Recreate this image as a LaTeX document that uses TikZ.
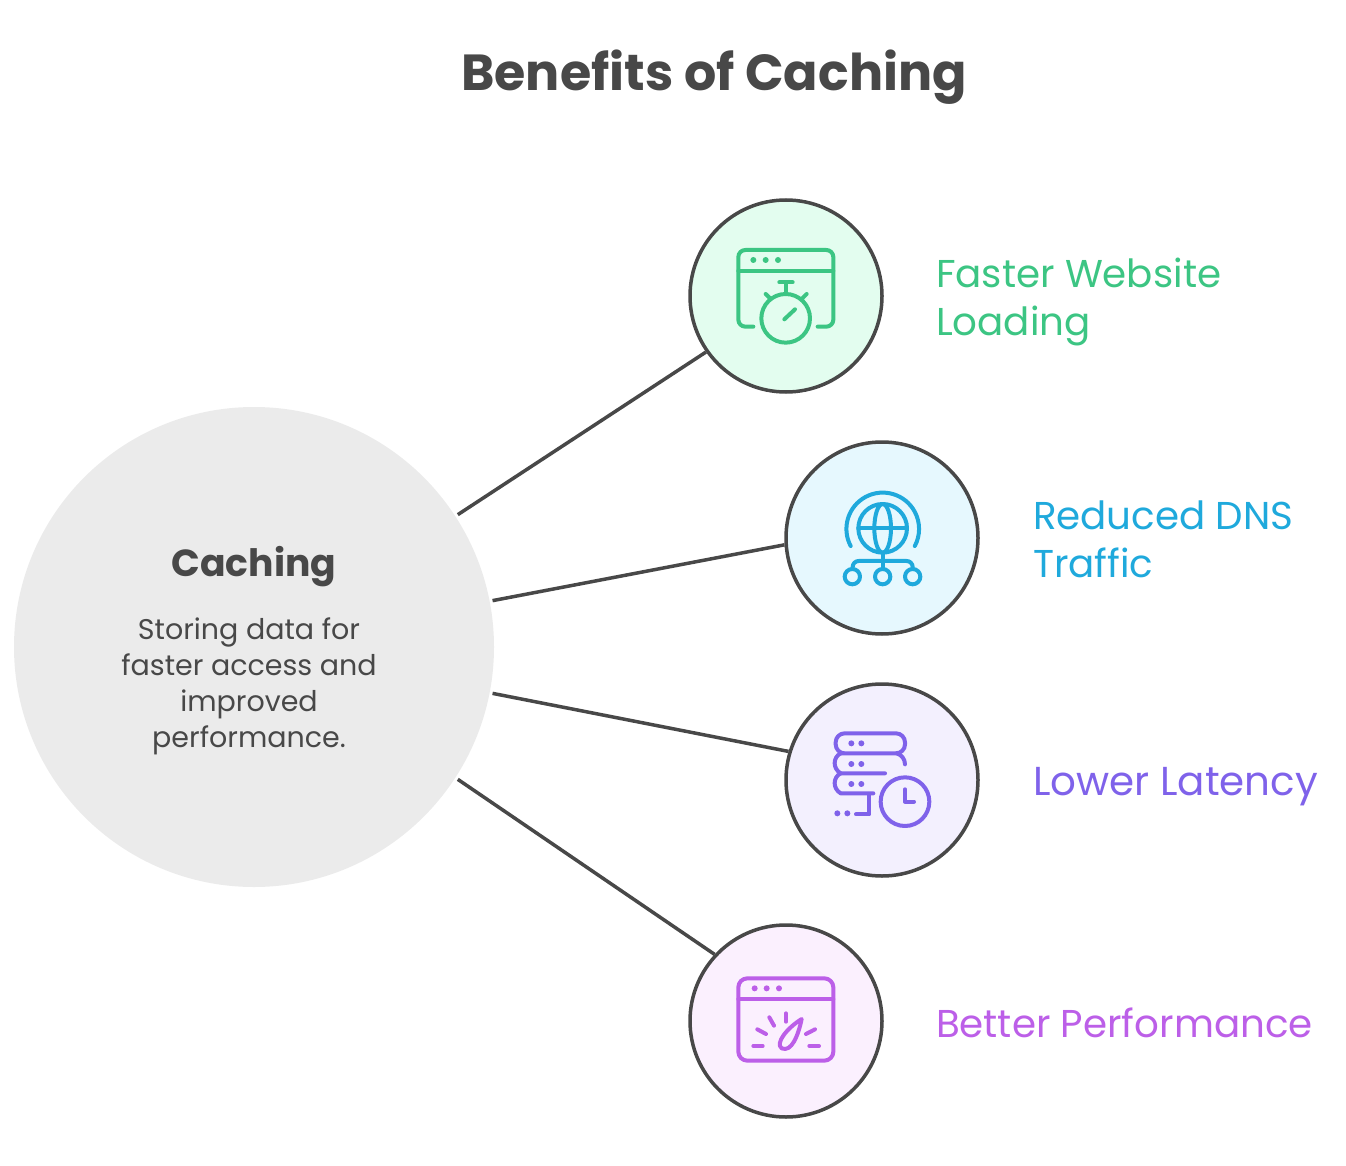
\documentclass[tikz,border=0pt]{standalone}
\usepackage{fontspec}
\setmainfont{Poppins}
\usetikzlibrary{positioning}
\definecolor{ink}{HTML}{484848}
\definecolor{disc}{HTML}{EBEBEB}
\definecolor{greenline}{HTML}{3CC583}
\definecolor{greenfill}{HTML}{E3FDEF}
\definecolor{blueline}{HTML}{1FA9DC}
\definecolor{bluefill}{HTML}{E6F8FE}
\definecolor{violetline}{HTML}{7F62EA}
\definecolor{violetfill}{HTML}{F3F0FE}
\definecolor{pinkline}{HTML}{BC5FE8}
\definecolor{pinkfill}{HTML}{FBF0FE}
\tikzset{
  benefit/.style={draw=ink,line width=3.5pt,circle,minimum size=192pt,inner sep=0pt},
  link/.style={draw=ink,line width=3.5pt},
  label/.style={inner sep=0mm,outer sep=0mm,anchor=west,align=left,font=\fontsize{38.8}{48}\selectfont},
  icon/.style={line width=4pt,line cap=round,line join=round},
  zoomed/.style={x=0.3333pt,y=-0.3333pt}
}
\begin{document}
\begin{tikzpicture}[x=1pt,y=-1pt]
  \useasboundingbox (0,0) rectangle (1346,1166);
  \node (title) [text=ink,font=\fontsize{50.7}{56}\selectfont\bfseries] at (714,77) {Benefits of Caching};
  \node (caching) [circle,fill=disc,minimum size=480pt,inner sep=0pt,outer sep=3pt] at (254,647) {};
  \node (head) [text=ink,font=\fontsize{37.7}{44}\selectfont\bfseries] at (254,567) {Caching};
  \node (body) [text=ink,align=center,font=\fontsize{28.5}{36}\selectfont] at (249,686) {Storing data for\\faster access and\\improved\\performance.};
  \node (fast) [benefit,fill=greenfill] at (786,296) {};
  \node (dns) [benefit,fill=bluefill] at (882,538) {};
  \node (latency) [benefit,fill=violetfill] at (882,780) {};
  \node (perf) [benefit,fill=pinkfill] at (786,1021) {};
  \draw [link] (caching.33.3) to (fast.215);
  \draw [link] (caching.11) to (dns.184);
  \draw [link] (caching.-11) to (latency.163);
  \draw [link] (caching.-33.8) to (perf.137);
  \node (fastlabel) [label,text=greenline] at (936,302) {Faster Website\\Loading};
  \node (dnslabel) [label,text=blueline] at (1033,539) {Reduced DNS\\Traffic};
  \node (latencylabel) [label,text=violetline,font=\fontsize{40.4}{48}\selectfont] at (1033,787) {Lower Latency};
  \node (perflabel) [label,text=pinkline] at (936,1023) {Better Performance};
  \begin{scope}[shift={(720,230)},zoomed,icon,draw=greenline]
    \draw [rounded corners=7pt] (100,290) -- (55,290) -- (55,60) -- (340,60) -- (340,290) -- (293,290);
    \draw (55,122) -- (340,122);
    \foreach \dotx in {100,137,174} {\fill [greenline] (\dotx,90) circle [radius=9];}
    \draw (197,265) circle [radius=73];
    \draw (197,192) -- (197,158);
    \draw (178,157) -- (218,157);
    \draw (137,192) -- (152,207);
    \draw (260,192) -- (245,207);
    \draw (193,268) -- (225,238);
  \end{scope}
  \begin{scope}[shift={(820,475)},zoomed,icon,draw=blueline]
    \draw (188,160) circle [radius=73];
    \draw (188,160) ellipse [x radius=25,y radius=73];
    \draw (115,160) -- (261,160);
    \draw (188,233) -- (188,282);
    \draw (92,213) arc [start angle=152,end angle=388,radius=109];
    \draw [rounded corners=6pt] (98,282) -- (98,258) -- (278,258) -- (278,282);
    \foreach \nodex in {97,188,278} {\draw (\nodex,305) circle [radius=23];}
  \end{scope}
  \begin{scope}[shift={(820,720)},zoomed,icon,draw=violetline]
    \draw [rounded corners=9pt] (62,100) -- (47,100) -- (47,40) -- (255,40) -- (255,100) -- (62,100);
    \draw (62,100) .. controls (38,112) and (38,146) .. (62,160) -- (195,160);
    \draw (62,160) .. controls (38,172) and (38,206) .. (62,220) -- (160,220);
    \draw (230,100) .. controls (245,104) and (255,118) .. (255,133);
    \draw (148,222) -- (148,283) -- (108,283);
    \foreach \rowy in {70,132,192} {
      \fill [violetline] (94,\rowy) circle [radius=9];
      \fill [violetline] (124,\rowy) circle [radius=9];
    }
    \fill [violetline] (52,280) circle [radius=9];
    \fill [violetline] (82,280) circle [radius=9];
    \draw (255,245) circle [radius=73];
    \draw (255,208) -- (255,245) -- (282,245);
  \end{scope}
  \begin{scope}[shift={(720,960)},zoomed,icon,draw=pinkline]
    \draw [rounded corners=9pt] (55,55) rectangle (340,302);
    \draw (55,118) -- (340,118);
    \foreach \dotx in {104,140,177} {\fill [pinkline] (\dotx,85) circle [radius=9];}
    \draw (198,160) -- (198,185);
    \draw (148,172) -- (162,197);
    \draw (112,208) -- (138,222);
    \draw (100,258) -- (128,258);
    \draw (285,208) -- (258,222);
    \draw (268,258) -- (297,258);
    \draw (245,177) .. controls (200,205) and (165,250) .. (185,265) .. controls (215,278) and (235,225) .. (245,177) -- cycle;
  \end{scope}
\end{tikzpicture}
\end{document}
